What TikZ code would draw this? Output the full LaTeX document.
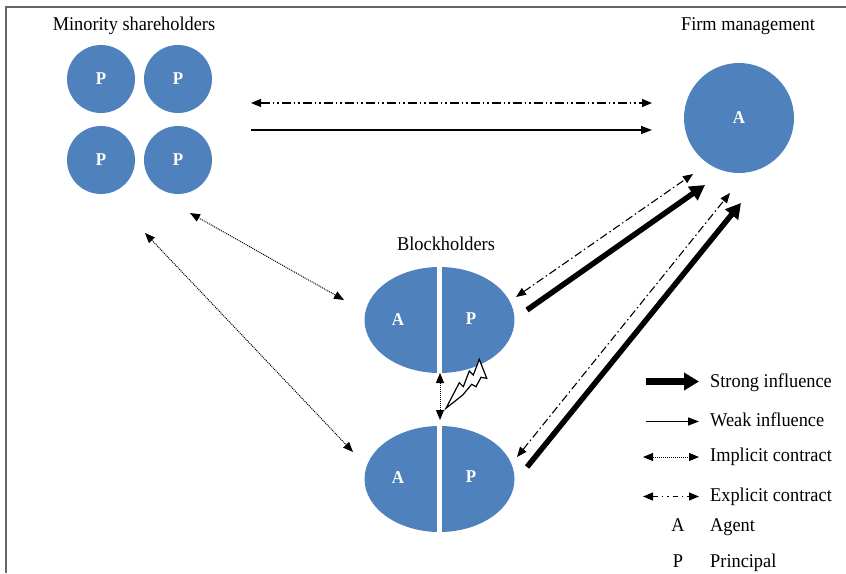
\documentclass[tikz,border=0pt]{standalone}
\usepackage{fontspec}
\setmainfont[FakeStretch=0.94]{Liberation Serif}
\usetikzlibrary{arrows.meta,shapes.geometric}
\definecolor{nodeblue}{HTML}{4F81BD}
\definecolor{framegray}{HTML}{666666}
\begin{document}
\begin{tikzpicture}[x=1pt,y=-1pt,
  txt/.style={font=\fontsize{19.5}{21}\selectfont, inner sep=0pt},
  pcirc/.style={circle, fill=nodeblue, inner sep=0pt, text=white,
    font=\bfseries\fontsize{18}{18}\selectfont},
  halfell/.style={ellipse, fill=nodeblue, inner sep=0pt,
    minimum width=150pt, minimum height=106pt},
  letter/.style={text=white, font=\bfseries\fontsize{18}{18}\selectfont, inner sep=0pt},
  weak/.style={line width=1.4pt, -{Triangle[length=11pt,width=8pt]}},
  strong/.style={line width=5.5pt, -{Triangle[length=15pt,width=16pt]}},
  implicit/.style={line width=1pt, densely dotted, {Triangle[length=10pt,width=8pt]}-{Triangle[length=10pt,width=8pt]}},
  explicit/.style={line width=1.2pt, dash pattern=on 9pt off 3pt on 1.5pt off 3pt on 1.5pt off 3pt,
    {Triangle[length=10pt,width=8pt]}-{Triangle[length=10pt,width=8pt]}},
  dashdot/.style={line width=1.1pt, dash pattern=on 8pt off 3pt on 1.5pt off 3pt,
    {Triangle[length=10pt,width=8pt]}-{Triangle[length=10pt,width=8pt]}},
]
\useasboundingbox (0,0) rectangle (846,573);

% frame
\draw[framegray, line width=1.2pt] (6,573) -- (6,7) -- (846,7);

% headings
\node[txt, anchor=base] (tmin) at (134,30) {Minority shareholders};
\node[txt, anchor=base] (tfirm) at (748,30) {Firm management};
\node[txt, anchor=base] (tblock) at (446,250.5) {Blockholders};

% minority shareholders
\node[pcirc, minimum size=68pt] (m1) at (101,79) {P};
\node[pcirc, minimum size=68pt] (m2) at (178,79) {P};
\node[pcirc, minimum size=68pt] (m3) at (101,160) {P};
\node[pcirc, minimum size=68pt] (m4) at (178,160) {P};

% firm management
\node[pcirc, minimum size=110pt] (fm) at (739,118) {A};

% blockholders
\node[halfell] (b1) at (439.5,320) {};
\node[halfell] (b2) at (439.5,479) {};
\draw[white, line width=5pt] (b1.north) -- (b1.south);
\draw[white, line width=5pt] (b2.north) -- (b2.south);
\node[letter] (b1a) at (398,320) {A};
\node[letter] (b1p) at (471,318.5) {P};
\node[letter] (b2a) at (398,478) {A};
\node[letter] (b2p) at (471,477) {P};

% connector end points
\coordinate (mR1) at (251,103);
\coordinate (fL1) at (652,103);
\coordinate (mR2) at (251,130);
\coordinate (fL2) at (652,130);
\coordinate (mB1) at (190,213);
\coordinate (b1W) at (344,300);
\coordinate (mB2) at (145,233);
\coordinate (b2W) at (353,452);
\coordinate (b1S) at (440,373);
\coordinate (b2N) at (440,420);
\coordinate (b1E) at (516,297);
\coordinate (fSW1) at (693,174);
\coordinate (b1Es) at (527,310);
\coordinate (fSW2) at (705,185);
\coordinate (b2E) at (517,457);
\coordinate (fSW3) at (730,193);
\coordinate (b2Es) at (527,467);
\coordinate (fSW4) at (741,203);

% minority shareholders -- firm management
\draw[explicit] (mR1) -- (fL1);
\draw[weak] (mR2) -- (fL2);

% minority shareholders -- blockholders
\draw[implicit] (mB1) -- (b1W);
\draw[implicit] (mB2) -- (b2W);

% between blockholders
\draw[implicit] (b1S) -- (b2N);
\draw[fill=white, line width=1.2pt, line join=miter]
  (446,408.3) -- (459.3,382.7) -- (463.3,386.7) -- (469.3,371) -- (473.3,375)
  -- (479.3,359.3) -- (486.7,378.3) -- (481,377.3) -- (476,386.7)
  -- (471.7,384.3) -- (462.7,395) -- cycle;

% blockholders -- firm management
\draw[dashdot] (b1E) -- (fSW1);
\draw[strong] (b1Es) -- (fSW2);
\draw[dashdot] (b2E) -- (fSW3);
\draw[strong] (b2Es) -- (fSW4);

% legend
\coordinate (l1a) at (646,381.5); \coordinate (l1b) at (699,381.5);
\coordinate (l2a) at (646,421.5); \coordinate (l2b) at (699,421.5);
\coordinate (l3a) at (643,457);   \coordinate (l3b) at (699,457);
\coordinate (l4a) at (643,496.5); \coordinate (l4b) at (699,496.5);
\draw[line width=6.5pt, -{Triangle[length=15pt,width=17pt]}] (l1a) -- (l1b);
\draw[weak] (l2a) -- (l2b);
\draw[implicit] (l3a) -- (l3b);
\draw[line width=1.2pt, dash pattern=on 5pt off 4pt on 1.5pt off 4pt on 1.5pt off 4pt,
  {Triangle[length=10pt,width=8pt]}-{Triangle[length=10pt,width=8pt]}] (l4a) -- (l4b);
\node[txt, anchor=base west] (ls) at (710,387.3) {Strong influence};
\node[txt, anchor=base west] (lw) at (710,426.7) {Weak influence};
\node[txt, anchor=base west] (li) at (710,461) {Implicit contract};
\node[txt, anchor=base west] (le) at (710,501.7) {Explicit contract};
\node[txt, anchor=base] (lA) at (678,531.7) {A};
\node[txt, anchor=base west] (la) at (710,531.7) {Agent};
\node[txt, anchor=base] (lP) at (678,567) {P};
\node[txt, anchor=base west] (lp) at (710,567) {Principal};
\end{tikzpicture}
\end{document}
